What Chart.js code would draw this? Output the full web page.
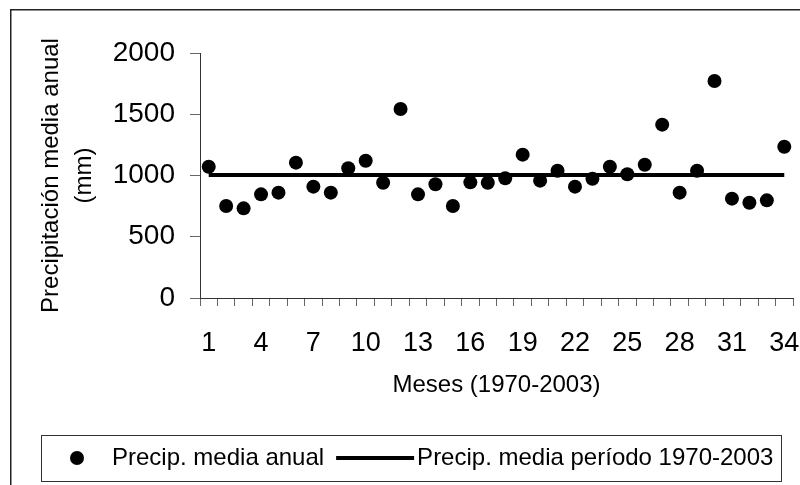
<!DOCTYPE html>
<html>
<head>
<meta charset="utf-8">
<script src="https://cdn.jsdelivr.net/npm/chart.js@4/dist/chart.umd.min.js"></script>
<style>
  html, body { margin: 0; padding: 0; background: #fff; }
</style>
</head>
<body>
<canvas id="grafico" width="800" height="485"></canvas>
<script>
// Datos
const meses = ['1', '2', '3', '4', '5', '6', '7', '8', '9', '10', '11', '12', '13', '14', '15', '16', '17',
               '18', '19', '20', '21', '22', '23', '24', '25', '26', '27', '28', '29', '30', '31', '32', '33', '34'];
const precipAnual = [1072, 751, 732, 846, 860, 1105, 909, 860, 1059, 1121, 941, 1543, 846, 928, 751, 944, 941,
                     977, 1170, 958, 1039, 909, 974, 1072, 1010, 1088, 1415, 860, 1039, 1771, 811, 778, 797, 1235];
const precipMediaPeriodo = [1005, 1005, 1005, 1005, 1005, 1005, 1005, 1005, 1005, 1005, 1005, 1005, 1005, 1005, 1005, 1005, 1005,
                            1005, 1005, 1005, 1005, 1005, 1005, 1005, 1005, 1005, 1005, 1005, 1005, 1005, 1005, 1005, 1005, 1005];
const etiquetasEjeX = ['1', '4', '7', '10', '13', '16', '19', '22', '25', '28', '31', '34'];
const ejeYMin = 0;
const ejeYMax = 2000;
const ejeYPaso = 500;

const fuente = '"Liberation Sans", Arial, sans-serif';
Chart.defaults.font.family = fuente;
Chart.defaults.color = '#000';

// Fondo blanco y marco exterior del gráfico
const marcoExterior = {
    id: 'marcoExterior',
    beforeDraw(chart) {
        const ctx = chart.ctx;
        ctx.save();
        ctx.fillStyle = '#fff';
        ctx.fillRect(0, 0, chart.width, chart.height);
        ctx.strokeStyle = '#222';
        ctx.lineWidth = 1.5;
        ctx.strokeRect(10.75, 9.75, chart.width, chart.height);
        ctx.restore();
    }
};

// Leyenda con recuadro, como en el original
const leyendaPropia = {
    id: 'leyendaPropia',
    afterDraw(chart) {
        const ctx = chart.ctx;
        const [puntos, media] = chart.data.datasets;
        const caja = { x: 41, y: 435, w: 740, h: 46 };
        const yc = caja.y + caja.h / 2;

        ctx.save();
        ctx.strokeStyle = '#333';
        ctx.lineWidth = 1;
        ctx.strokeRect(caja.x + 0.5, caja.y + 0.5, caja.w, caja.h);

        ctx.beginPath();
        ctx.arc(caja.x + 36, yc, puntos.pointRadius, 0, Math.PI * 2);
        ctx.fillStyle = puntos.pointBackgroundColor;
        ctx.fill();

        ctx.font = '24px ' + fuente;
        ctx.textBaseline = 'middle';
        ctx.fillStyle = '#000';
        let x = caja.x + 71;
        ctx.fillText(puntos.label, x, yc);
        x += ctx.measureText(puntos.label).width + 12;

        ctx.beginPath();
        ctx.moveTo(x, yc);
        ctx.lineTo(x + 78, yc);
        ctx.lineWidth = media.borderWidth;
        ctx.strokeStyle = media.borderColor;
        ctx.stroke();
        x += 81;
        ctx.fillText(media.label, x, yc);
        ctx.restore();
    }
};

const ctx = document.getElementById('grafico').getContext('2d');
new Chart(ctx, {
    type: 'line',
    data: {
        labels: meses,
        datasets: [
            {
                label: 'Precip. media anual',
                data: precipAnual,
                showLine: false,
                pointRadius: 7,
                pointHoverRadius: 7,
                pointBackgroundColor: '#000',
                pointBorderWidth: 0,
                borderColor: '#000'
            },
            {
                label: 'Precip. media período 1970-2003',
                data: precipMediaPeriodo,
                borderColor: '#000',
                borderWidth: 4,
                pointRadius: 0,
                pointHoverRadius: 0,
                tension: 0
            }
        ]
    },
    options: {
        responsive: false,
        animation: false,
        devicePixelRatio: 1,
        layout: {
            padding: { top: 53, left: 10, right: 6, bottom: 85 }
        },
        plugins: {
            legend: { display: false },
            tooltip: { enabled: false }
        },
        scales: {
            x: {
                offset: true,
                grid: {
                    offset: true,
                    drawOnChartArea: false,
                    tickLength: 8,
                    color: '#666'
                },
                border: { color: '#333', width: 1 },
                ticks: {
                    autoSkip: false,
                    maxRotation: 0,
                    padding: 21,
                    font: { size: 27 },
                    callback(value, index) {
                        const etiqueta = meses[index];
                        return etiquetasEjeX.includes(etiqueta) ? etiqueta : '';
                    }
                },
                title: {
                    display: true,
                    text: 'Meses (1970-2003)',
                    font: { size: 24 },
                    padding: { top: 0, bottom: 0 }
                },
                afterFit(scale) {
                    scale.height = 102;
                    scale.paddingLeft = 0;
                    scale.paddingRight = 0;
                }
            },
            y: {
                min: ejeYMin,
                max: ejeYMax,
                grid: {
                    drawOnChartArea: false,
                    tickLength: 10,
                    color: '#666'
                },
                border: { color: '#333', width: 1 },
                ticks: {
                    stepSize: ejeYPaso,
                    padding: 15,
                    font: { size: 28 },
                    callback(value) {
                        return String(value);
                    }
                },
                title: {
                    display: true,
                    text: ['Precipitación media anual', '(mm)'],
                    font: { size: 24, lineHeight: 1.375 },
                    padding: { top: 25, bottom: 0 }
                },
                afterFit(scale) {
                    scale.width = 190;
                }
            }
        }
    },
    plugins: [marcoExterior, leyendaPropia]
});
</script>
</body>
</html>
